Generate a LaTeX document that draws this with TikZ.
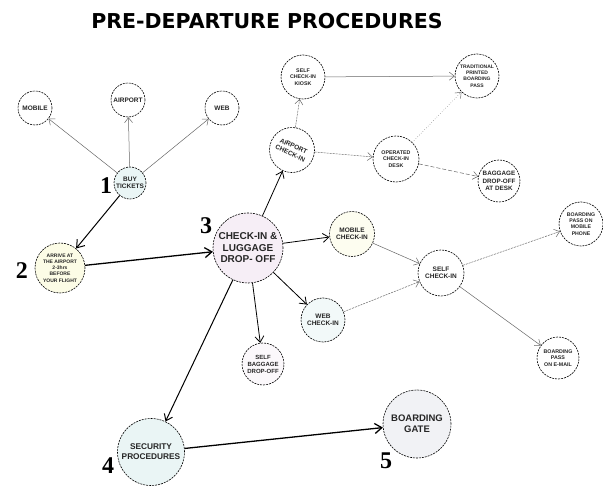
\documentclass[tikz,border=0pt]{standalone}
\usepackage{fontspec}
\setmainfont{Liberation Sans}
\newfontfamily\numfont{Liberation Serif}
\newfontfamily\titlefont{DejaVu Sans}
\usetikzlibrary{arrows.meta}
\definecolor{cyanf}{HTML}{EAF5F5}
\definecolor{pinkf}{HTML}{F6EEF6}
\definecolor{yelf}{HTML}{FCFCE6}
\definecolor{grayf}{HTML}{F1F2F5}
\tikzset{
  bub/.style={circle, draw=black, dashed, dash pattern=on 2pt off 1pt, line width=0.6pt, fill=white,
    inner sep=0pt, align=center, font=\bfseries\fontsize{6.5}{7}\selectfont, text=black!85},
  big/.style={bub, font=\bfseries\fontsize{10}{11.5}\selectfont},
  num/.style={font=\numfont\bfseries\fontsize{24}{24}\selectfont},
  thin/.style={draw=black!60, line width=0.5pt, -{Straight Barb[length=5pt,width=8pt]}},
  thindash/.style={thin, dash pattern=on 2pt off 1pt},
  mid/.style={draw=black, line width=0.8pt, -{Straight Barb[length=6pt,width=9pt]}},
  thick/.style={draw=black, line width=1.3pt, -{Straight Barb[length=7pt,width=10pt]}},
}
\begin{document}
\begin{tikzpicture}[x=1pt,y=-1pt]
\useasboundingbox (0,0) rectangle (603,486);
\node[font=\titlefont\bfseries\fontsize{20.5}{20}\selectfont, text=black] (title) at (267,21) {PRE-DEPARTURE PROCEDURES};
% step nodes
\node[bub, minimum size=34pt] (mob) at (35,108) {MOBILE};
\node[bub, minimum size=34pt] (apt) at (128,100) {AIRPORT};
\node[bub, minimum size=34pt] (web) at (222,108) {WEB};
\node[bub, minimum size=32pt, fill=cyanf, font=\bfseries\fontsize{6.5}{7.5}\selectfont] (buy) at (130,183) {BUY\\TICKETS};
\node[bub, minimum size=50pt, fill=yelf, font=\bfseries\fontsize{5}{6.2}\selectfont] (arr) at (60,268) {ARRIVE AT\\THE AIRPORT\\2-3hrs\\BEFORE\\YOUR FLIGHT};
\node[big, minimum size=70pt, fill=pinkf] (chk) at (248,248) {CHECK-IN \&\\LUGGAGE\\DROP- OFF};
\node[bub, minimum size=42pt, fill=pinkf!40, font=\bfseries\fontsize{6}{7}\selectfont] (sbd) at (263,364) {SELF\\BAGGAGE\\DROP-OFF};
\node[big, minimum size=67pt, fill=cyanf, font=\bfseries\fontsize{8.3}{10}\selectfont] (sec) at (151,452) {SECURITY\\PROCEDURES};
\node[big, minimum size=68pt, fill=grayf, font=\bfseries\fontsize{9.5}{11}\selectfont] (gate) at (417,424) {BOARDING\\GATE};
\node[bub, minimum size=45pt, rotate=-25, font=\bfseries\fontsize{6.5}{8}\selectfont] (ack) at (292,150) {AIRPORT\\CHECK-IN};
\node[bub, minimum size=44pt, font=\bfseries\fontsize{5.3}{6.3}\selectfont] (kio) at (303,77) {SELF\\CHECK-IN\\KIOSK};
\node[bub, minimum size=44pt, font=\bfseries\fontsize{5}{6.2}\selectfont] (trad) at (477,76) {TRADITIONAL\\PRINTED\\BOARDING\\PASS};
\node[bub, minimum size=46pt, font=\bfseries\fontsize{5.3}{6.3}\selectfont] (opd) at (396,159) {OPERATED\\CHECK-IN\\DESK};
\node[bub, minimum size=42pt, font=\bfseries\fontsize{6.3}{7.2}\selectfont] (bdd) at (499,181) {BAGGAGE\\DROP-OFF\\AT DESK};
\node[bub, minimum size=45pt, fill=yelf!60, font=\bfseries\fontsize{6.5}{7.5}\selectfont] (mci) at (352,234) {MOBILE\\CHECK-IN};
\node[bub, minimum size=46pt, font=\bfseries\fontsize{6.5}{7.5}\selectfont] (sci) at (441,273) {SELF\\CHECK-IN};
\node[bub, minimum size=44pt, fill=cyanf!60, font=\bfseries\fontsize{6.5}{7.5}\selectfont] (wci) at (323,320) {WEB\\CHECK-IN};
\node[bub, minimum size=44pt, font=\bfseries\fontsize{5.2}{6.2}\selectfont] (bpm) at (581,224) {BOARDING\\PASS ON\\MOBILE\\PHONE};
\node[bub, minimum size=42pt, font=\bfseries\fontsize{5.3}{6.3}\selectfont] (bpe) at (558,358) {BOARDING\\PASS\\ON E-MAIL};
% numbers
\node[num] (n1) at (106,186) {1};
\node[num] (n2) at (22,271) {2};
\node[num] (n3) at (206,226) {3};
\node[num] (n4) at (108,466) {4};
\node[num] (n5) at (386,461) {5};
% connectors
\draw[thin] (buy) -- (mob);
\draw[thin] (buy) -- (apt);
\draw[thin] (buy) -- (web);
\draw[thick, line width=1pt] (buy) -- (arr);
\draw[thick] (arr) -- (chk);
\draw[mid] (chk) -- (ack);
\draw[mid] (chk) -- (mci);
\draw[mid] (chk) -- (wci);
\draw[mid] (chk) -- (sbd);
\draw[mid, line width=1pt] (chk) -- (sec);
\draw[thick] (sec) -- (gate);
\draw[thindash] (ack) -- (kio);
\draw[thindash] (ack) -- (opd);
\draw[thin] (kio) -- (trad);
\draw[thin, dotted] (opd) -- (trad);
\draw[thindash, dash pattern=on 4pt off 2pt] (opd) -- (bdd);
\draw[thin] (mci) -- (sci);
\draw[thindash] (wci) -- (sci);
\draw[thindash] (sci) -- (bpm);
\draw[thin] (sci) -- (bpe);
\end{tikzpicture}
\end{document}
